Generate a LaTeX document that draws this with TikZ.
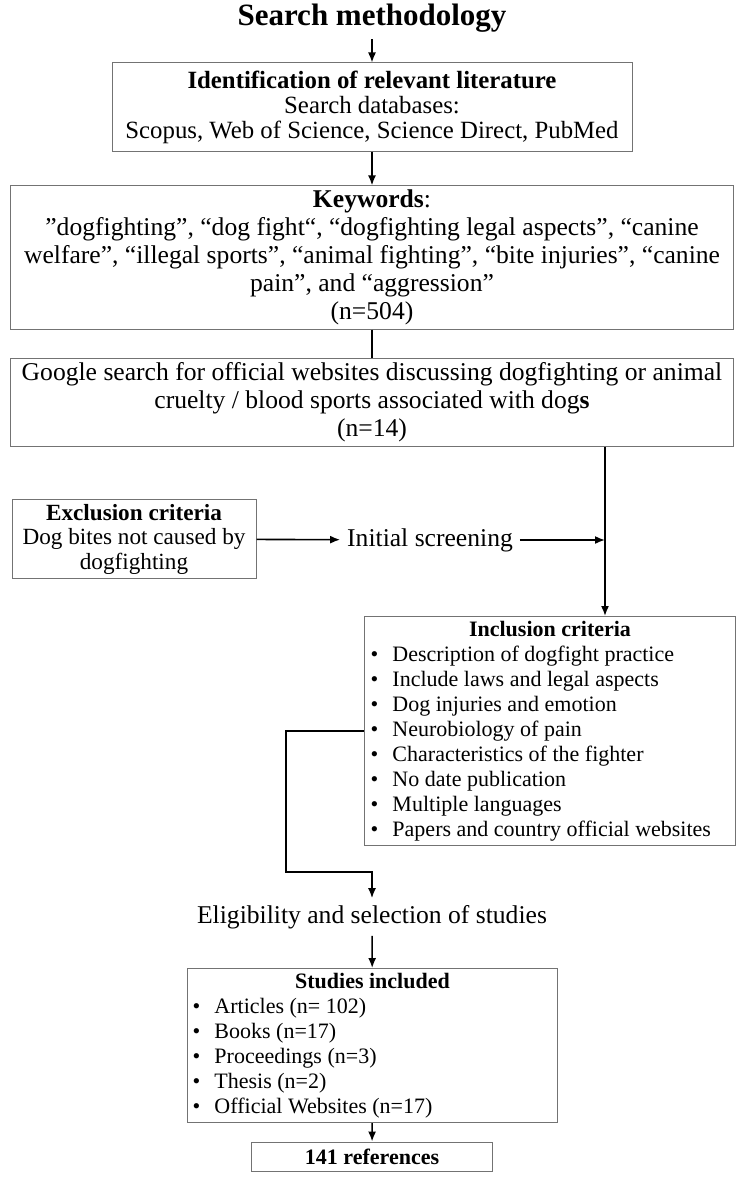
\documentclass[tikz,border=0pt]{standalone}
\usepackage{fontspec}
\setmainfont{Liberation Serif}
\usetikzlibrary{arrows.meta}
\newcommand{\itm}[1]{\makebox[11pt][l]{\textbullet}#1}
\begin{document}
\begin{tikzpicture}[x=0.5pt,y=-0.5pt,
    font=\fontsize{11}{12.5}\selectfont,
    box/.style={draw=black!55, line width=0.5pt, align=center, inner sep=2pt},
    listbox/.style={box, align=flush left, anchor=north west},
    bigtext/.style={font=\fontsize{12.8}{14}\selectfont},
    arr/.style={-{Latex[length=5pt,width=4pt]}, line width=0.8pt},
    lin/.style={line width=0.8pt}]
    \useasboundingbox (0,0) rectangle (744,1177);
    %% search
    \node[font=\fontsize{15.5}{18}\selectfont\bfseries] (title) at (372,18) {Search methodology};
    \node[box, minimum width=260pt, minimum height=44pt, font=\fontsize{12.4}{12.5}\selectfont] (ident) at (372,107)
        {\textbf{Identification of relevant literature}\\Search databases:\\Scopus, Web of Science, Science Direct, PubMed};
    \node[box, bigtext, minimum width=361.5pt, minimum height=71.5pt] (keyw) at (372,257.5)
        {\textbf{Keywords}:\\
        ”dogfighting”, “dog fight“, “dogfighting legal aspects”, “canine\\
        welfare”, “illegal sports”, “animal fighting”, “bite injuries”, “canine\\
        pain”, and “aggression”\\
        (n=504)};
    \node[box, bigtext, minimum width=361.5pt, minimum height=43.5pt] (google) at (372,402.5)
        {Google search for official websites discussing dogfighting or animal\\
        cruelty / blood sports associated with dog\textbf{s}\\
        (n=14)};
    %% screening
    \node[box, minimum width=122pt, minimum height=39pt, font=\fontsize{11.6}{12.25}\selectfont] (excl) at (134,539)
        {\textbf{Exclusion criteria}\\Dog bites not caused by\\dogfighting};
    \node[bigtext] (screen) at (430,540) {Initial screening};
    \coordinate (join) at (605,540);
    \node[listbox, text width=179.5pt, inner xsep=3pt, minimum height=114.5pt] (incl) at (364,616)
        {\hfill\textbf{Inclusion criteria}\hfill\null\\
        \itm{Description of dogfight practice}\\
        \itm{Include laws and legal aspects}\\
        \itm{Dog injuries and emotion}\\
        \itm{Neurobiology of pain}\\
        \itm{Characteristics of the fighter}\\
        \itm{No date publication}\\
        \itm{Multiple languages}\\
        \itm{Papers and country official websites}};
    %% selection
    \coordinate (bend) at (286,872);
    \node[bigtext] (elig) at (372,917) {Eligibility and selection of studies};
    \node[listbox, text width=180pt, inner xsep=2.5pt, minimum height=77pt] (stud) at (187,968)
        {\hfill\textbf{Studies included}\hfill\null\\
        \itm{Articles (n= 102)}\\
        \itm{Books (n=17)}\\
        \itm{Proceedings (n=3)}\\
        \itm{Thesis (n=2)}\\
        \itm{Official Websites (n=17)}};
    \node[box, minimum width=120.5pt, minimum height=14.5pt, font=\fontsize{11}{12.5}\selectfont\bfseries] (refs) at (372,1156.5) {141 references};
    %% connectors
    \draw[arr] (title) -- (ident);
    \draw[arr] (ident) -- (keyw);
    \draw[lin] (keyw) -- (google);
    \draw[arr] (excl) -- (screen);
    \draw[arr] (screen) -- (join);
    \draw[arr] (google.south -| join) -- (incl.north -| join);
    \draw[arr] (incl.west) -| (bend) -| (elig.north);
    \draw[arr] (elig) -- (stud);
    \draw[arr] (stud) -- (refs);
\end{tikzpicture}
\end{document}
